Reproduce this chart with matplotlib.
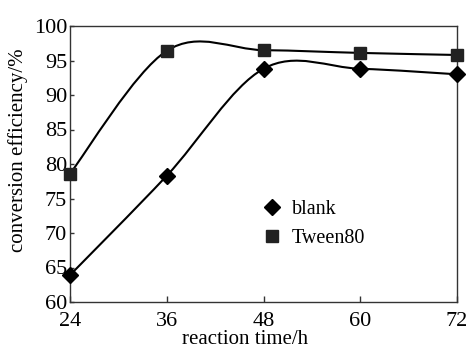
import numpy as np
import matplotlib
matplotlib.use("Agg")
import matplotlib.pyplot as plt
from matplotlib.path import Path
from matplotlib.patches import PathPatch

hours = [24, 36, 48, 60, 72]
blank = [63.9, 78.3, 93.8, 93.8, 93.0]
tween80 = [78.6, 96.4, 96.5, 96.1, 95.8]
xticks = [24, 36, 48, 60, 72]
yticks = [60, 65, 70, 75, 80, 85, 90, 95, 100]

plt.rcParams['font.family'] = ['Liberation Serif', 'DejaVu Serif']

fig = plt.figure(figsize=(4.68, 3.49), dpi=100)
ax = fig.add_axes([70/468, 1-302/349, (457-70)/468, (302-26)/349])


def smooth_path(xs, ys):
    # Excel-style smoothed line (Catmull-Rom as cubic Bezier)
    xs = np.asarray(xs, float)
    ys = np.asarray(ys, float)
    n = len(xs)
    verts = [(xs[0], ys[0])]
    codes = [Path.MOVETO]
    for i in range(n - 1):
        p0 = (xs[max(i-1, 0)], ys[max(i-1, 0)])
        p1 = (xs[i], ys[i])
        p2 = (xs[i+1], ys[i+1])
        p3 = (xs[min(i+2, n-1)], ys[min(i+2, n-1)])
        c1 = (p1[0] + (p2[0]-p0[0])/6, p1[1] + (p2[1]-p0[1])/6)
        c2 = (p2[0] - (p3[0]-p1[0])/6, p2[1] - (p3[1]-p1[1])/6)
        verts += [c1, c2, p2]
        codes += [Path.CURVE4]*3
    return Path(verts, codes)


for ys in (blank, tween80):
    ax.add_patch(PathPatch(smooth_path(hours, ys), fill=False,
                           edgecolor='black', lw=1.5, zorder=2))

ax.plot(hours, blank, linestyle='none', marker='D', markersize=8,
        color='black', zorder=3, label='blank', clip_on=False)
ax.plot(hours, tween80, linestyle='none', marker='s', markersize=9,
        color='#222222', zorder=3, label='Tween80', clip_on=False)

ax.set_xlim(24, 72)
ax.set_ylim(60, 100)
ax.set_xticks(xticks)
ax.set_yticks(yticks)
ax.tick_params(axis='both', direction='in', labelsize=16, width=1, color='#333333')
ax.tick_params(axis='x', length=4, pad=7)
ax.tick_params(axis='y', length=3, pad=2)
for s in ax.spines.values():
    s.set_linewidth(1.0)
    s.set_color('#333333')

ax.set_xlabel('reaction time/h', fontsize=15)
ax.set_ylabel('conversion efficiency/%', fontsize=15)
ax.xaxis.set_label_coords((245 - 70) / 387, -0.103)
ax.yaxis.set_label_coords((28 - 70) / 387, 0.549)

leg = ax.legend(loc='upper left', bbox_to_anchor=(0.475, 0.40), frameon=False,
                fontsize=14.5, handlelength=1.0, handletextpad=0.5,
                labelspacing=0.5, borderaxespad=0)
leg.legend_handles[1].set_markersize(8)

fig.savefig('out.png', dpi=100)
